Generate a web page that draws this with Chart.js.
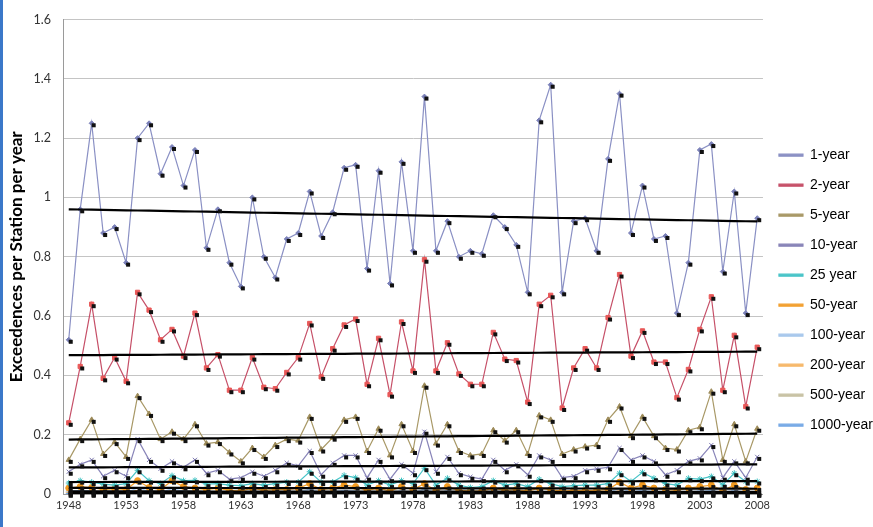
<!DOCTYPE html>
<html>
<head>
<meta charset="utf-8">
<script src="https://cdn.jsdelivr.net/npm/chart.js@4"></script>
<style>
  html, body { margin: 0; padding: 0; background: #fff; overflow: hidden; }
  #wrap { position: relative; width: 873px; height: 527px; box-sizing: border-box; border-left: 3px solid #3b78c9; overflow: hidden; }
</style>
</head>
<body>
<div id="wrap"><canvas id="exceedGraph" width="880" height="527"></canvas></div>
<script>
'use strict'

// 年
const years = [
  '1948','1949','1950','1951','1952','1953','1954','1955','1956','1957',
  '1958','1959','1960','1961','1962','1963','1964','1965','1966','1967',
  '1968','1969','1970','1971','1972','1973','1974','1975','1976','1977',
  '1978','1979','1980','1981','1982','1983','1984','1985','1986','1987',
  '1988','1989','1990','1991','1992','1993','1994','1995','1996','1997',
  '1998','1999','2000','2001','2002','2003','2004','2005','2006','2007',
  '2008'
];
const xTickLabels = ['1948','1953','1958','1963','1968','1973','1978','1983','1988','1993','1998','2003','2008'];
const yTicks = [0, 0.2, 0.4, 0.6, 0.8, 1, 1.2, 1.4, 1.6];

const seriesNames = ['1-year','2-year','5-year','10-year','25 year','50-year','100-year','200-year','500-year','1000-year'];

const oneYear = [
  0.52,0.96,1.25,0.88,0.90,0.78,1.20,1.25,1.08,1.17,
  1.04,1.16,0.83,0.96,0.78,0.70,1.00,0.80,0.73,0.86,
  0.88,1.02,0.87,0.95,1.10,1.11,0.76,1.09,0.71,1.12,
  0.82,1.34,0.82,0.92,0.80,0.82,0.81,0.94,0.90,0.84,
  0.68,1.26,1.38,0.68,0.92,0.93,0.82,1.13,1.35,0.88,
  1.04,0.86,0.87,0.61,0.78,1.16,1.18,0.75,1.02,0.61,
  0.93
];
const twoYear = [
  0.24,0.43,0.64,0.39,0.46,0.38,0.68,0.62,0.52,0.555,
  0.465,0.61,0.425,0.47,0.35,0.35,0.46,0.36,0.355,0.41,
  0.46,0.575,0.395,0.49,0.57,0.59,0.37,0.525,0.335,0.58,
  0.415,0.79,0.415,0.51,0.405,0.37,0.37,0.545,0.455,0.45,
  0.31,0.64,0.67,0.29,0.425,0.49,0.425,0.595,0.74,0.465,
  0.55,0.445,0.445,0.325,0.42,0.555,0.665,0.35,0.535,0.295,
  0.495
];
const fiveYear = [
  0.115,0.185,0.25,0.135,0.175,0.125,0.33,0.27,0.185,0.21,
  0.185,0.235,0.17,0.175,0.14,0.11,0.155,0.125,0.165,0.185,
  0.18,0.26,0.15,0.19,0.25,0.26,0.145,0.22,0.13,0.235,
  0.145,0.365,0.17,0.235,0.145,0.13,0.135,0.215,0.18,0.215,
  0.135,0.265,0.25,0.135,0.15,0.16,0.165,0.25,0.295,0.195,
  0.26,0.195,0.155,0.15,0.215,0.225,0.345,0.115,0.235,0.11,
  0.22
];
const tenYear = [
  0.075,0.1,0.115,0.06,0.08,0.06,0.185,0.115,0.085,0.11,
  0.09,0.115,0.07,0.08,0.05,0.055,0.075,0.06,0.08,0.105,
  0.095,0.145,0.065,0.105,0.13,0.13,0.055,0.115,0.05,0.1,
  0.07,0.21,0.075,0.125,0.07,0.058,0.05,0.115,0.08,0.1,
  0.065,0.13,0.115,0.055,0.06,0.08,0.085,0.09,0.155,0.115,
  0.13,0.11,0.065,0.08,0.11,0.12,0.165,0.055,0.11,0.055,
  0.125
];
const twentyFiveYear = [
  0.037,0.045,0.04,0.033,0.03,0.035,0.08,0.045,0.035,0.062,
  0.045,0.046,0.033,0.035,0.03,0.028,0.035,0.03,0.035,0.04,
  0.04,0.075,0.04,0.04,0.063,0.055,0.03,0.045,0.03,0.045,
  0.035,0.087,0.03,0.053,0.03,0.022,0.025,0.045,0.03,0.035,
  0.025,0.05,0.035,0.025,0.028,0.03,0.03,0.035,0.07,0.042,
  0.073,0.053,0.035,0.03,0.053,0.05,0.059,0.031,0.07,0.042,
  0.042
];
const fiftyYear = [
  0.02,0.025,0.022,0.015,0.018,0.015,0.045,0.022,0.015,0.045,
  0.025,0.02,0.015,0.02,0.012,0.01,0.02,0.012,0.015,0.015,
  0.02,0.035,0.015,0.02,0.03,0.025,0.012,0.02,0.01,0.025,
  0.015,0.035,0.012,0.025,0.012,0.01,0.01,0.02,0.012,0.015,
  0.01,0.02,0.015,0.01,0.012,0.012,0.012,0.015,0.04,0.02,
  0.03,0.02,0.015,0.012,0.02,0.025,0.03,0.012,0.03,0.015,
  0.02
];
const hundredYear = [
  0.01,0.012,0.01,0.006,0.008,0.006,0.02,0.01,0.006,0.018,
  0.01,0.008,0.006,0.008,0.004,0.004,0.008,0.005,0.006,0.006,
  0.008,0.015,0.006,0.008,0.012,0.01,0.004,0.008,0.004,0.01,
  0.006,0.015,0.005,0.01,0.005,0.004,0.004,0.008,0.005,0.006,
  0.004,0.008,0.006,0.004,0.005,0.005,0.005,0.006,0.018,0.008,
  0.012,0.008,0.006,0.005,0.008,0.01,0.012,0.005,0.012,0.006,
  0.008
];
const twoHundredYear = [
  0.006,0.006,0.005,0.003,0.004,0.003,0.012,0.005,0.003,0.01,
  0.005,0.004,0.003,0.004,0.002,0.002,0.004,0.003,0.003,0.003,
  0.004,0.008,0.003,0.004,0.006,0.005,0.002,0.004,0.002,0.005,
  0.003,0.008,0.003,0.005,0.003,0.002,0.002,0.004,0.003,0.003,
  0.002,0.004,0.003,0.002,0.003,0.003,0.003,0.003,0.01,0.004,
  0.006,0.004,0.003,0.003,0.004,0.005,0.006,0.003,0.006,0.003,
  0.004
];
const fiveHundredYear = [
  0.002,0.002,0.002,0.001,0.001,0.001,0.005,0.002,0.001,0.004,
  0.002,0.001,0.001,0.001,0.001,0.001,0.001,0.001,0.001,0.001,
  0.001,0.003,0.001,0.001,0.002,0.002,0.001,0.001,0.001,0.002,
  0.001,0.003,0.001,0.002,0.001,0.001,0.001,0.001,0.001,0.001,
  0.001,0.001,0.001,0.001,0.001,0.001,0.001,0.001,0.004,0.001,
  0.002,0.001,0.001,0.001,0.001,0.002,0.002,0.001,0.002,0.001,
  0.001
];
const thousandYear = [
  0.001,0.001,0.001,0,0.001,0,0.002,0.001,0,0.002,
  0.001,0.001,0,0.001,0,0,0.001,0,0,0,
  0.001,0.001,0,0.001,0.001,0.001,0,0.001,0,0.001,
  0,0.001,0,0.001,0,0,0,0.001,0,0,
  0,0.001,0,0,0,0,0,0,0.002,0.001,
  0.001,0.001,0,0,0.001,0.001,0.001,0,0.001,0,
  0.001
];

const seriesData = [oneYear, twoYear, fiveYear, tenYear, twentyFiveYear, fiftyYear, hundredYear, twoHundredYear, fiveHundredYear, thousandYear];
const seriesColors = ['#8a90c4','#c65068','#a89866','#8884b8','#48c4c8','#f2a030','#a8c8ec','#f6b86a','#c8c2a4','#78aae6'];
const markerColors = ['#7a80b8','#e85858','#9c8a58','#7c78b0','#3cc0c0','#f29a20','#9cc0ea','#f4b060','#c0baa0','#6aa0e0'];
const markerStyles = ['rectRot','rect','triangle','crossRot','star','circle','line','line','circle','rectRot'];
const markerSizes = [2.5, 3, 3, 3, 3, 3, 3, 3, 0, 2.5];

// 近似直線（最小二乗）
function trendOf(values) {
  const n = values.length;
  let sx = 0, sy = 0, sxx = 0, sxy = 0;
  values.forEach((v, i) => { sx += i; sy += v; sxx += i * i; sxy += i * v; });
  const b = (n * sxy - sx * sy) / (n * sxx - sx * sx);
  const a = (sy - b * sx) / n;
  return values.map((v, i) => a + b * i);
}

const datasets = [];
seriesData.forEach((values, k) => {
  datasets.push({
    label: seriesNames[k],
    data: values,
    borderColor: seriesColors[k],
    backgroundColor: seriesColors[k],
    pointBackgroundColor: markerColors[k],
    pointBorderColor: markerColors[k],
    pointStyle: markerStyles[k],
    pointRadius: markerSizes[k],
    pointBorderWidth: 1,
    borderWidth: 1.2,
    tension: 0,
    order: 1,
  });
});
seriesData.forEach((values, k) => {
  datasets.push({
    label: 'trend',
    isTrend: true,
    data: trendOf(values),
    borderColor: '#000',
    borderWidth: 2.2,
    pointRadius: 0,
    tension: 0,
    order: 0,
  });
});

// 点の右下に黒い影マーカー
const shadowMarks = {
  id: 'shadowMarks',
  afterDatasetsDraw(chart) {
    const c = chart.ctx;
    c.save();
    c.fillStyle = '#111';
    chart.data.datasets.forEach((ds, i) => {
      if (ds.isTrend) return;
      chart.getDatasetMeta(i).data.forEach((pt) => {
        c.fillRect(pt.x, pt.y, 4, 4);
      });
    });
    c.restore();
  }
};

const ctx = document.getElementById('exceedGraph');
const myChart = new Chart(ctx, {
  type: 'line',
  data: { labels: years, datasets: datasets },
  plugins: [shadowMarks],
  options: {
    responsive: false,
    animation: false,
    layout: { padding: { top: 13, right: 0, bottom: 0, left: 0 } },
    font: { family: 'Lato, "Open Sans", sans-serif' },
    scales: {
      x: {
        offset: true,
        grid: { display: false, drawTicks: false },
        border: { color: '#9a9a9a' },
        ticks: {
          autoSkip: false,
          maxRotation: 0,
          color: '#333',
          padding: 5,
          font: { size: 11 },
          callback: function(value, index) {
            const lab = years[index];
            return xTickLabels.includes(lab) ? lab : '';
          }
        },
        afterFit: function(scale) { scale.height = 33; }
      },
      y: {
        min: 0,
        max: 1.6,
        afterBuildTicks: function(scale) { scale.ticks = yTicks.map(v => ({ value: v })); },
        grid: { color: '#c4c4c4', drawTicks: false },
        border: { color: '#9a9a9a' },
        ticks: {
          color: '#333',
          padding: 12,
          font: { size: 12.5 },
          callback: function(value) { return String(Number(value.toFixed(1))); }
        },
        title: {
          display: true,
          text: 'Exceedences per Station per year',
          color: '#000',
          font: { size: 17, weight: 'bold' },
          padding: { top: 3, bottom: 2 }
        },
        afterFit: function(scale) { scale.width = 60; }
      }
    },
    plugins: {
      tooltip: { enabled: false },
      legend: {
        position: 'right',
        title: { display: true, text: '', padding: { top: 26, bottom: 0 } },
        labels: {
          filter: (item, data) => !data.datasets[item.datasetIndex].isTrend,
          boxWidth: 24,
          boxHeight: 2,
          padding: 16,
          color: '#000',
          font: { size: 14 }
        }
      }
    }
  }
});
</script>
</body>
</html>
